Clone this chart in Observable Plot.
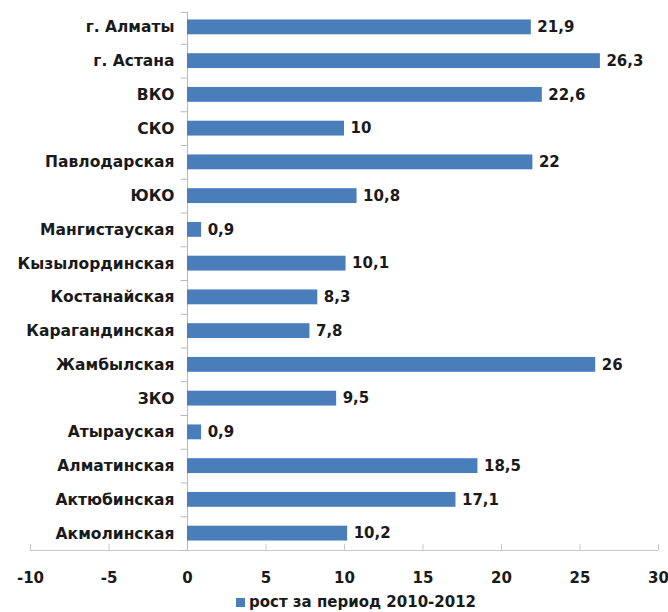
<!DOCTYPE html>
<html>
<head>
<meta charset="utf-8">
<script src="https://cdn.jsdelivr.net/npm/d3@7"></script>
<script src="https://cdn.jsdelivr.net/npm/@observablehq/plot@0.6"></script>
<style>
  html, body { margin: 0; padding: 0; background: #fff; }
  #chart { width: 668px; }
  .legend { font-family: "DejaVu Sans", sans-serif; font-weight: bold; font-size: 15px; color: #1a1a1a;
            height: 20px; line-height: 20px; margin-left: 236px; display: flex; align-items: center; }
  .legend .sw { width: 9px; height: 9px; background: #4a7ebb; margin-right: 4px; }
</style>
</head>
<body>
<div id="chart"></div>
<script>
const regions = ["г. Алматы","г. Астана","ВКО","СКО","Павлодарская","ЮКО","Мангистауская","Кызылординская","Костанайская","Карагандинская","Жамбылская","ЗКО","Атырауская","Алматинская","Актюбинская","Акмолинская"];
const growth = [21.9, 26.3, 22.6, 10, 22, 10.8, 0.9, 10.1, 8.3, 7.8, 26, 9.5, 0.9, 18.5, 17.1, 10.2];
const xTicks = [-10, -5, 0, 5, 10, 15, 20, 25, 30];
const seriesName = "рост за период 2010-2012";

const data = regions.map((r, i) => ({region: r, value: growth[i], i}));
const boundaries = d3.range(-1, regions.length).map(i => i + 0.5);
const fmt = v => String(v).replace(".", ",");
const barColor = "#4a7ebb";
const font = "DejaVu Sans, sans-serif";

const chart = Plot.plot({
  width: 668,
  height: 592,
  marginLeft: 30,
  marginRight: 10,
  marginTop: 10,
  marginBottom: 42,
  style: {fontFamily: font, background: "#fff"},
  x: {domain: [-10, 30]},
  y: {domain: [regions.length - 0.5, -0.5], axis: null},
  marks: [
    Plot.ruleY([regions.length - 0.5], {x1: -10, x2: 30, stroke: "#c8c8c8", strokeWidth: 1}),
    Plot.ruleX(xTicks, {y1: regions.length - 0.5, y2: regions.length - 0.68, stroke: "#c8c8c8"}),
    Plot.ruleX([0], {y1: -0.45, y2: regions.length - 0.5, stroke: "#b8b8b8"}),
    Plot.ruleY(boundaries.slice(1), {x1: -0.4, x2: 0, stroke: "#b8b8b8"}),
    Plot.ruleY(boundaries.slice(0, 1), {x1: -0.4, x2: 0, stroke: "#b8b8b8", dy: 2}),
    Plot.rectX(data, {x1: 0, x2: "value", y1: d => d.i - 0.22, y2: d => d.i + 0.22, fill: barColor}),
    Plot.text(data, {x: 0, y: "i", text: "region", textAnchor: "end", dx: -13, fontSize: 15.5, fontWeight: "bold", fill: "#1a1a1a"}),
    Plot.text(data, {x: "value", y: "i", text: d => fmt(d.value), textAnchor: "start", dx: 6, fontSize: 15, fontWeight: "bold", fill: "#1a1a1a"}),
    Plot.axisX({ticks: xTicks, tickSize: 0, tickPadding: 22, tickFormat: d => String(d), fontSize: 15, fontWeight: "bold", fill: "#1a1a1a", label: null})
  ]
});
document.getElementById("chart").appendChild(chart);
const leg = document.createElement("div");
leg.className = "legend";
leg.innerHTML = '<span class="sw"></span><span></span>';
leg.lastChild.textContent = seriesName;
document.getElementById("chart").appendChild(leg);
</script>
</body>
</html>
